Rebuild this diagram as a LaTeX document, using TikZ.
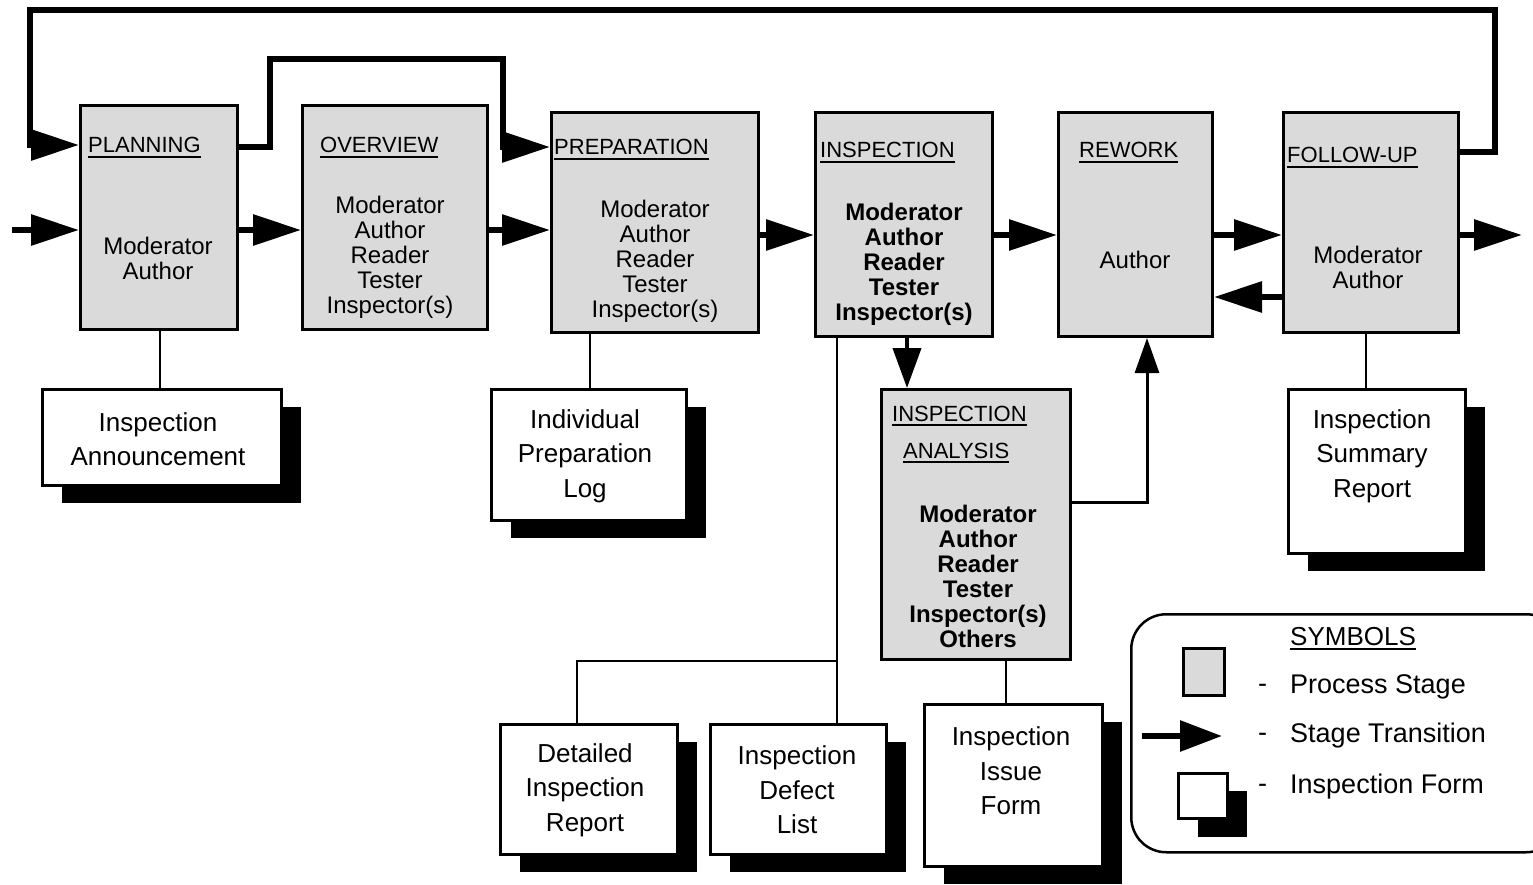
\documentclass[tikz,border=0pt]{standalone}
\usepackage{fontspec}
\setmainfont{Liberation Sans}
\usetikzlibrary{arrows.meta,shadows}
\definecolor{stagegray}{RGB}{218,218,218}
\newcommand{\ulin}[1]{\setbox0\hbox{#1}\leavevmode\rlap{\rule[-5pt]{\wd0}{2pt}}\box0}
\begin{document}
\begin{tikzpicture}[x=1pt,y=-1pt,
  stage/.style={draw, line width=3pt, fill=stagegray, inner sep=0pt, anchor=north west},
  form/.style={draw, line width=3pt, fill=white, inner sep=0pt, anchor=north west,
    drop shadow={shadow xshift=19pt, shadow yshift=-17pt, opacity=1, fill=black}},
  ttl/.style={anchor=base west, inner sep=0pt, font=\fontsize{22}{24}\selectfont},
  body/.style={align=center, inner sep=0pt, font=\fontsize{24}{25}\selectfont},
  bbody/.style={align=center, inner sep=0pt, font=\fontsize{24}{25}\selectfont\bfseries},
  ftext/.style={align=center, inner sep=0pt, font=\fontsize{26}{34.5}\selectfont},
  ltext/.style={anchor=west, inner sep=0pt, font=\fontsize{27}{30}\selectfont},
  trans/.style={line width=6pt, -{Triangle[length=48pt,width=30pt]}},
  vtrans/.style={line width=4pt, -{Triangle[length=40pt,width=28pt]}},
  utrans/.style={line width=3pt, -{Triangle[length=35pt,width=24pt]}},
  link/.style={line width=2.5pt}
]
\useasboundingbox (0,0) rectangle (1533,885);
\clip (0,0) rectangle (1533,885);

% ---------- stages ----------
\node[stage, minimum width=157, minimum height=224] (plan) at (79,104) {};
\node[stage, minimum width=185, minimum height=224] (over) at (301,104) {};
\node[stage, minimum width=207, minimum height=220] (prep) at (550,111) {};
\node[stage, minimum width=177, minimum height=224] (insp) at (814,111) {};
\node[stage, minimum width=154, minimum height=224] (rew) at (1057,111) {};
\node[stage, minimum width=175, minimum height=220] (fol) at (1282,111) {};
\node[stage, minimum width=189, minimum height=270] (ana) at (880,388) {};

% titles
\node[ttl] (planT) at (88,153) {\ulin{PLANNING}};
\node[ttl] (overT) at (320,153) {\ulin{OVERVIEW}};
\node[ttl] (prepT) at (554,155) {\ulin{PREPARATION}};
\node[ttl] (inspT) at (820,158) {\ulin{INSPECTION}};
\node[ttl] (rewT) at (1079,158) {\ulin{REWORK}};
\node[ttl] (folT) at (1287,163) {\ulin{FOLLOW-UP}};
\node[ttl] (anaT1) at (892,421) {\ulin{INSPECTION}};
\node[ttl] (anaT2) at (903,458) {\ulin{ANALYSIS}};

% bodies
\node[body] (planB) at (158,258) {Moderator\\Author};
\node[body] (overB) at (390,257) {Moderator\\Author\\Reader\\Tester\\Inspector(s)};
\node[body] (prepB) at (655,261) {Moderator\\Author\\Reader\\Tester\\Inspector(s)};
\node[bbody] (inspB) at (904,264) {Moderator\\Author\\Reader\\Tester\\Inspector(s)};
\node[body] (rewB) at (1135,260) {Author};
\node[body] (folB) at (1368,267) {Moderator\\Author};
\node[bbody] (anaB) at (978,576) {Moderator\\Author\\Reader\\Tester\\Inspector(s)\\Others};

% ---------- forms ----------
\node[form, minimum width=239, minimum height=96] (ann) at (41,388) {};
\node[form, minimum width=195, minimum height=131] (plog) at (490,388) {};
\node[form, minimum width=177, minimum height=130] (rep) at (499,723) {};
\node[form, minimum width=176, minimum height=130] (dfl) at (709,723) {};
\node[form, minimum width=178, minimum height=162] (iss) at (923,703) {};
\node[form, minimum width=177, minimum height=164] (summ) at (1287,388) {};

\node[ftext] (annT) at (158,439) {Inspection\\Announcement};
\node[ftext] (plogT) at (585,456) {Individual\\Preparation\\Log};
\node[ftext] (repT) at (585,790) {Detailed\\Inspection\\Report};
\node[ftext] (dflT) at (797,790) {Inspection\\Defect\\List};
\node[ftext] (issT) at (1011,771) {Inspection\\Issue\\Form};
\node[ftext] (summT) at (1372,456) {Inspection\\Summary\\Report};

% ---------- transitions ----------
\coordinate (in) at (12,230);
\coordinate (out) at (1522,235);
\draw[trans] (in) -- (plan.west |- 0,230);
\draw[trans] (plan.east |- 0,230) -- (over.west |- 0,230);
\draw[trans] (over.east |- 0,230) -- (prep.west |- 0,230);
\draw[trans] (prep.east |- 0,235) -- (insp.west |- 0,235);
\draw[trans] (insp.east |- 0,235) -- (rew.west |- 0,235);
\draw[trans] (rew.east |- 0,235) -- (fol.west |- 0,235);
\draw[trans] (fol.east |- 0,235) -- (out);
\draw[trans] (fol.west |- 0,297) -- (rew.east |- 0,297);
\draw[trans] (fol.east |- 0,152) -- (1495,152) -- (1495,10) -- (30,10) -- (30,145) -- (plan.west |- 0,145);
\draw[trans] (plan.east |- 0,147) -- (270,147) -- (270,59) -- (503,59) -- (503,147) -- (prep.west |- 0,147);
\draw[vtrans] (insp.south -| 907,0) -- (ana.north -| 907,0);
\draw[utrans] (ana.east |- 0,502) -- (1147,502) -- (rew.south -| 1147,0);

% ---------- form links ----------
\draw[link] (plan.south -| 160,0) -- (ann.north -| 160,0);
\draw[link] (prep.south -| 590,0) -- (plog.north -| 590,0);
\draw[link] (insp.south -| 837,0) -- (dfl.north -| 837,0);
\coordinate (br) at (837,661);
\draw[link] (br) -| (rep.north -| 577,0);
\draw[link] (ana.south -| 1006,0) -- (iss.north -| 1006,0);
\draw[link] (fol.south -| 1366,0) -- (summ.north -| 1366,0);

% ---------- legend ----------
\node[draw, line width=2.5pt, rounded corners=35pt, minimum width=430, minimum height=238, anchor=north west, inner sep=0pt] (leg) at (1130,613) {};
\node[ttl, font=\fontsize{26}{28}\selectfont] (legT) at (1290,645) {\ulin{SYMBOLS}};
\node[stage, minimum width=41, minimum height=47] (lgs) at (1182,647) {};
\coordinate (la1) at (1142,736);
\coordinate (la2) at (1222,736);
\draw[line width=6pt, -{Triangle[length=42pt,width=30pt]}] (la1) -- (la2);
\node[form, minimum width=49, minimum height=45, drop shadow={shadow xshift=19pt, shadow yshift=-18pt, opacity=1, fill=black}] (lgf) at (1177,772) {};
\node[ltext] (d1) at (1258,688) {-};
\node[ltext] (d2) at (1258,737) {-};
\node[ltext] (d3) at (1258,788) {-};
\node[ltext] (l1) at (1290,687) {Process Stage};
\node[ltext] (l2) at (1290,736) {Stage Transition};
\node[ltext] (l3) at (1290,787) {Inspection Form};
\end{tikzpicture}
\end{document}
